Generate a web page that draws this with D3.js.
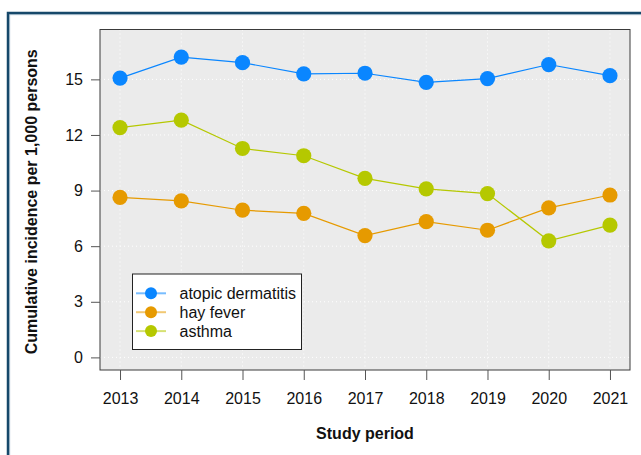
<!DOCTYPE html>
<html>
<head>
<meta charset="utf-8">
<script src="https://cdn.jsdelivr.net/npm/d3@7"></script>
<style>
  html, body { margin: 0; padding: 0; background: #fff; }
  svg { display: block; font-family: "Liberation Sans", Arial, sans-serif; }
</style>
</head>
<body>
<div id="chart"></div>
<script>
const years = [2013, 2014, 2015, 2016, 2017, 2018, 2019, 2020, 2021];
const atopicDermatitis = [15.07, 16.2, 15.9, 15.3, 15.33, 14.84, 15.04, 15.8, 15.2];
const hayFever = [8.63, 8.44, 7.94, 7.77, 6.57, 7.32, 6.86, 8.07, 8.76];
const asthma = [12.4, 12.8, 11.27, 10.88, 9.66, 9.09, 8.84, 6.29, 7.14];
const yTicks = [0, 3, 6, 9, 12, 15];

const series = [
  { name: "atopic dermatitis", values: atopicDermatitis, color: "#0a86ff" },
  { name: "hay fever", values: hayFever, color: "#e69a00" },
  { name: "asthma", values: asthma, color: "#b5c800" }
];

const W = 641, H = 455;
const FS = 16;
const panel = { left: 100, top: 29.5, right: 630, bottom: 370 };

const svg = d3.select("#chart").append("svg")
  .attr("width", W).attr("height", H);

// outer frame (only top/left visible in the crop)
svg.append("rect").attr("x", 8).attr("y", 13).attr("width", W + 20).attr("height", H + 20)
  .attr("fill", "none").attr("stroke", "#c9d7e2").attr("stroke-width", 1.5)
  .attr("transform", "translate(1.5,1.5)");
svg.append("rect").attr("x", 8).attr("y", 13).attr("width", W + 20).attr("height", H + 20)
  .attr("fill", "none").attr("stroke", "#16486a").attr("stroke-width", 2.5);

const x = d3.scaleLinear().domain([2012.673, 2021.327]).range([panel.left, panel.right]);
const y = d3.scaleLinear().domain([-0.68, 17.69]).range([panel.bottom, panel.top]);

// panel background
svg.append("rect")
  .attr("x", panel.left).attr("y", panel.top)
  .attr("width", panel.right - panel.left).attr("height", panel.bottom - panel.top)
  .attr("fill", "#ebebeb");

// dotted grid
const grid = svg.append("g").attr("stroke", "#fff").attr("stroke-width", 1).attr("stroke-dasharray", "1,3");
grid.selectAll("line.gy").data(yTicks).join("line").attr("class", "gy")
  .attr("x1", panel.left).attr("x2", panel.right)
  .attr("y1", d => y(d)).attr("y2", d => y(d));
grid.selectAll("line.gx").data(years).join("line").attr("class", "gx")
  .attr("y1", panel.top).attr("y2", panel.bottom)
  .attr("x1", d => x(d)).attr("x2", d => x(d));

// lines and points
const line = d3.line().x((d, i) => x(years[i])).y(d => y(d));
series.forEach(s => {
  svg.append("path").datum(s.values)
    .attr("d", line).attr("fill", "none")
    .attr("stroke", s.color).attr("stroke-width", 1.2);
  svg.append("g").selectAll("circle").data(s.values).join("circle")
    .attr("cx", (d, i) => x(years[i])).attr("cy", d => y(d))
    .attr("r", 7.6).attr("fill", s.color);
});

// panel border
svg.append("rect")
  .attr("x", panel.left).attr("y", panel.top)
  .attr("width", panel.right - panel.left).attr("height", panel.bottom - panel.top)
  .attr("fill", "none").attr("stroke", "#3a3a3a").attr("stroke-width", 1);

// y axis
const yAxis = svg.append("g").attr("transform", `translate(${panel.left},0)`)
  .call(d3.axisLeft(y).tickValues(yTicks).tickSize(9).tickPadding(8).tickFormat(d3.format("d")));
yAxis.select(".domain").remove();
yAxis.selectAll("line").attr("stroke", "#555");
yAxis.selectAll("text").attr("font-size", FS).attr("fill", "#111")
  .attr("font-family", "Liberation Sans, Arial, sans-serif");

// x axis
const xAxis = svg.append("g").attr("transform", `translate(0,${panel.bottom})`)
  .call(d3.axisBottom(x).tickValues(years).tickSize(10).tickPadding(13).tickFormat(d3.format("d")));
xAxis.select(".domain").remove();
xAxis.selectAll("line").attr("stroke", "#555");
xAxis.selectAll("text").attr("font-size", FS).attr("fill", "#111")
  .attr("font-family", "Liberation Sans, Arial, sans-serif");

// axis titles
svg.append("text")
  .attr("x", (panel.left + panel.right) / 2).attr("y", 439)
  .attr("text-anchor", "middle").attr("font-size", FS).attr("font-weight", "bold")
  .attr("fill", "#111").text("Study period");
svg.append("text")
  .attr("transform", `translate(37,${(panel.top + panel.bottom) / 2 + 2}) rotate(-90)`)
  .attr("text-anchor", "middle").attr("font-size", FS).attr("font-weight", "bold")
  .attr("fill", "#111").text("Cumulative incidence per 1,000 persons");

// legend
const lg = svg.append("g").attr("transform", "translate(132.5,274)");
lg.append("rect").attr("width", 169).attr("height", 75.5)
  .attr("fill", "#fff").attr("stroke", "#222").attr("stroke-width", 1);
series.forEach((s, i) => {
  const cy = 19.3 + i * 18.9;
  lg.append("line").attr("x1", 3.5).attr("x2", 33.5).attr("y1", cy).attr("y2", cy)
    .attr("stroke", s.color).attr("stroke-opacity", 0.55).attr("stroke-width", 2);
  lg.append("circle").attr("cx", 18.5).attr("cy", cy).attr("r", 6).attr("fill", s.color);
  lg.append("text").attr("x", 47).attr("y", cy).attr("dy", "0.35em")
    .attr("font-size", FS).attr("fill", "#111").text(s.name);
});
</script>
</body>
</html>
